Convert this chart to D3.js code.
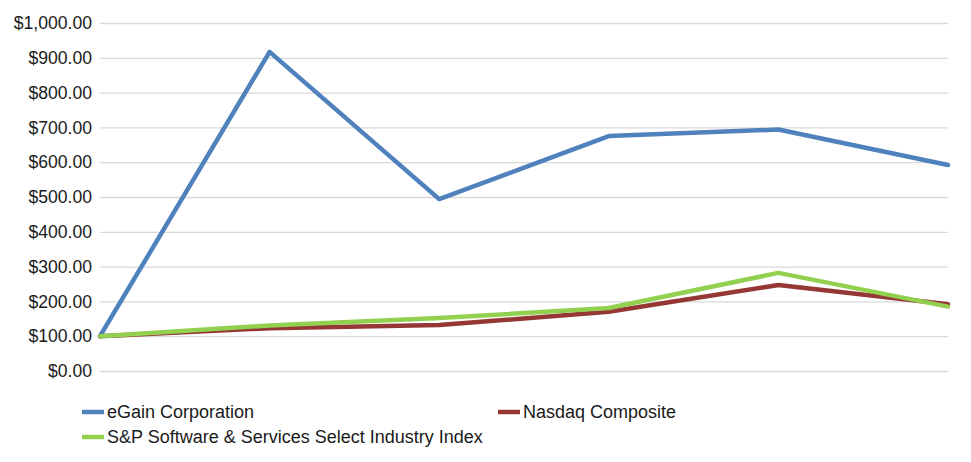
<!DOCTYPE html>
<html><head><meta charset="utf-8">
<script src="https://cdn.jsdelivr.net/npm/d3@7"></script>
<style>body{margin:0;background:#fff;font-family:"Liberation Sans",Arial,sans-serif;}</style>
</head><body><svg id="c" width="971" height="462"></svg>
<script>
const periods = ["P0","P1","P2","P3","P4","P5"];
const egain = [100, 917, 494, 675, 694, 592];
const nasdaq = [100, 123, 132, 170, 247, 192];
const spsw = [100, 131, 152, 181, 282, 185];
const yTicks = [0,100,200,300,400,500,600,700,800,900,1000];
const seriesNames = ["eGain Corporation","Nasdaq Composite","S&P Software & Services Select Industry Index"];
const seriesColors = ["#4F81BD","#953735","#92D050"];

const svg = d3.select("#c");
const x = d3.scalePoint().domain(periods).range([100, 948]);
const y = d3.scaleLinear().domain([0,1000]).range([371, 23]);
const fmt = v => "$" + d3.format(",.2f")(v);

const yAxis = d3.axisLeft(y).tickValues(yTicks).tickFormat(fmt).tickSize(-848).tickPadding(8);
const ga = svg.append("g").attr("transform","translate(100,0)").call(yAxis);
ga.select(".domain").remove();
ga.selectAll(".tick line").attr("stroke","#d9d9d9").attr("stroke-width",1.3);
ga.selectAll(".tick text").attr("fill","#1a1a1a").style("font-size","17.6px").style("font-family","'Liberation Sans',Arial,sans-serif");

const data = [egain, nasdaq, spsw];
const line = d3.line().x((d,i)=>x(periods[i])).y(d=>y(d));
data.forEach((s,k)=>{
  svg.append("path").datum(s).attr("d",line).attr("fill","none")
    .attr("stroke",seriesColors[k]).attr("stroke-width",4.5).attr("stroke-linejoin","round").attr("stroke-linecap","round");
});

const legendPos = [[82,412],[498,412],[82,437]];
seriesNames.forEach((n,k)=>{
  const g = svg.append("g").attr("transform",`translate(${legendPos[k][0]},${legendPos[k][1]})`);
  g.append("line").attr("x1",0).attr("x2",22).attr("y1",0).attr("y2",0).attr("stroke",seriesColors[k]).attr("stroke-width",4.5);
  g.append("text").attr("x",25).attr("y",6).text(n).attr("fill","#1a1a1a").style("font-size","18px");
});
</script></body></html>
